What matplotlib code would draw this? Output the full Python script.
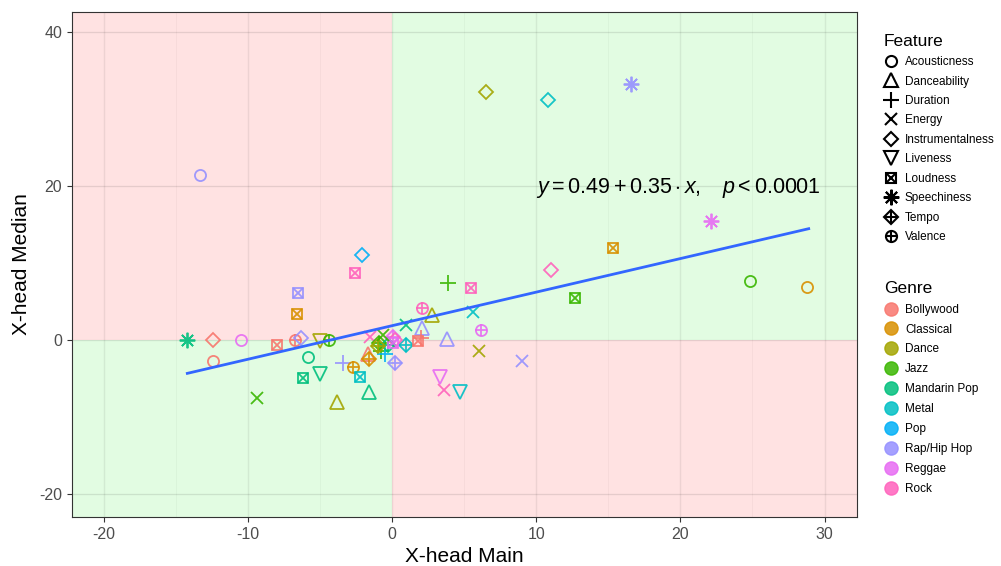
import matplotlib
matplotlib.use("Agg")
import matplotlib.pyplot as plt
from matplotlib.lines import Line2D
import numpy as np

plt.rcParams['font.family'] = ['Liberation Sans', 'DejaVu Sans']
plt.rcParams['mathtext.fontset'] = 'custom'
plt.rcParams['mathtext.rm'] = 'Liberation Sans'
plt.rcParams['mathtext.it'] = 'Liberation Sans:italic'
plt.rcParams['axes.unicode_minus'] = False

# ---------------- data ----------------
genres = ["Bollywood", "Classical", "Dance", "Jazz", "Mandarin Pop", "Metal",
          "Pop", "Rap/Hip Hop", "Reggae", "Rock"]
genre_colors = ["#F8766D", "#D89000", "#A3A500", "#39B600", "#00BF7D", "#00BFC4",
                "#00B0F6", "#9590FF", "#E76BF3", "#FF62BC"]
features = ["Acousticness", "Danceability", "Duration", "Energy", "Instrumentalness",
            "Liveness", "Loudness", "Speechiness", "Tempo", "Valence"]

pt_genre = ["Rap/Hip Hop", "Dance", "Metal", "Rap/Hip Hop", "Reggae", "Classical", "Rock",
            "Jazz", "Jazz", "Classical", "Rap/Hip Hop", "Pop", "Rock", "Rap/Hip Hop",
            "Classical", "Mandarin Pop", "Bollywood", "Bollywood", "Reggae", "Jazz",
            "Bollywood", "Bollywood", "Rap/Hip Hop", "Dance", "Jazz", "Mandarin Pop",
            "Mandarin Pop", "Mandarin Pop", "Dance", "Rap/Hip Hop", "Classical", "Metal",
            "Mandarin Pop", "Jazz", "Rock", "Rock", "Dance", "Metal", "Reggae",
            "Rap/Hip Hop", "Dance", "Reggae", "Rock", "Metal", "Rap/Hip Hop",
            "Rap/Hip Hop", "Bollywood", "Mandarin Pop", "Rock", "Bollywood", "Classical",
            "Jazz", "Jazz", "Reggae", "Metal", "Rock", "Pop", "Mandarin Pop", "Dance",
            "Reggae", "Bollywood", "Jazz"]
pt_feature = ["Acousticness", "Instrumentalness", "Instrumentalness", "Speechiness",
              "Speechiness", "Loudness", "Instrumentalness", "Loudness", "Acousticness",
              "Acousticness", "Energy", "Instrumentalness", "Loudness", "Loudness",
              "Loudness", "Speechiness", "Instrumentalness", "Acousticness", "Acousticness",
              "Energy", "Loudness", "Valence", "Instrumentalness", "Liveness", "Valence",
              "Acousticness", "Loudness", "Liveness", "Danceability", "Duration", "Valence",
              "Loudness", "Danceability", "Duration", "Loudness", "Valence", "Danceability",
              "Energy", "Valence", "Danceability", "Energy", "Liveness", "Energy",
              "Liveness", "Tempo", "Danceability", "Duration", "Energy", "Energy",
              "Danceability", "Tempo", "Tempo", "Duration", "Tempo", "Tempo",
              "Instrumentalness", "Duration", "Tempo", "Tempo", "Loudness", "Loudness",
              "Energy"]
pt_x = [-13.3, 6.5, 10.8, 16.6, 22.1, 15.3, 11.0, 12.7, 24.85, 28.8, 9.0, -2.1, -2.55,
        -6.5, -6.6, -14.25, -12.4, -12.4, -10.45, -9.4, -7.95, -6.75, -6.3, -5.0, -4.35,
        -5.85, -6.2, -5.0, -3.8, -3.4, -2.7, -2.2, -1.6, 3.9, 5.5, 2.1, 2.8, 5.6, 6.2,
        3.8, 6.0, 3.3, 3.6, 4.7, 0.2, 2.1, 2.0, 1.0, -1.5, -1.7, -1.6, -0.9, -0.8, 0.1,
        1.0, 0.2, -0.5, -0.3, -1.0, 0.1, 1.8, -0.6]
pt_y = [21.4, 32.2, 31.2, 33.3, 15.4, 12.0, 9.1, 5.4, 7.7, 6.9, -2.8, 11.0, 8.7, 6.1,
        3.4, -0.05, 0.0, -2.7, 0.0, -7.6, -0.7, 0.0, 0.2, -0.2, 0.0, -2.2, -5.0, -4.4,
        -8.1, -3.0, -3.5, -4.8, -6.8, 7.45, 6.7, 4.1, 3.25, 3.6, 1.3, 0.1, -1.5, -4.8,
        -6.5, -6.7, -3.0, 1.6, 0.3, 2.0, 0.4, -1.8, -2.5, -0.4, -1.4, 0.4, -0.7, 0.0,
        -1.8, -0.6, -0.8, -0.4, -0.2, 0.6]

fit_x = [-14.2, 28.9]
fit_intercept = 1.85
fit_slope = 0.436
eq_label = r'$y=0.49+0.35\cdot x,\ \ \ p<0.0001$'

x_ticks = [-20, -10, 0, 10, 20, 30]
y_ticks = [-20, 0, 20, 40]

# ---------------- marker definitions (ggplot shapes 1..10) ----------------
MC = 8.0  # base circle size
shape_parts = {
    "Acousticness": [("o", MC)],
    "Danceability": [("^", MC * 1.3)],
    "Duration": [("+", MC * 1.45)],
    "Energy": [("x", MC * 1.0)],
    "Instrumentalness": [("D", MC * 0.95)],
    "Liveness": [("v", MC * 1.3)],
    "Loudness": [("s", MC * 0.95), ("x", MC * 0.95)],
    "Speechiness": [((8, 2, 0), MC * 1.4)],
    "Tempo": [("D", MC * 0.95), ("+", MC * 1.34)],
    "Valence": [("o", MC), ("+", MC)],
}

fig = plt.figure(figsize=(10.01, 5.66), dpi=100)
ax = fig.add_axes([72 / 1001, 1 - 517 / 566, (857 - 72) / 1001, (517 - 12) / 566])

xlim = (-22.2, 32.25)
ylim = (-23.0, 42.6)
ax.set_xlim(*xlim)
ax.set_ylim(*ylim)

pink = "#FFE2E2"
green = "#E2FCE2"
ax.fill_between([xlim[0], 0], 0, ylim[1], color=pink, lw=0, zorder=0)
ax.fill_between([0, xlim[1]], 0, ylim[1], color=green, lw=0, zorder=0)
ax.fill_between([xlim[0], 0], ylim[0], 0, color=green, lw=0, zorder=0)
ax.fill_between([0, xlim[1]], ylim[0], 0, color=pink, lw=0, zorder=0)

# grid
for v in x_ticks:
    ax.axvline(v, color="black", alpha=0.07, lw=1.0, zorder=1)
for v in np.arange(-25, 35, 10):
    ax.axvline(v, color="black", alpha=0.04, lw=0.6, zorder=1)
for v in y_ticks:
    ax.axhline(v, color="black", alpha=0.07, lw=1.0, zorder=1)
for v in np.arange(-30, 50, 20):
    ax.axhline(v + 10, color="black", alpha=0.04, lw=0.6, zorder=1)

color_of = dict(zip(genres, genre_colors))
for g, f, x, y in zip(pt_genre, pt_feature, pt_x, pt_y):
    for m, ms in shape_parts[f]:
        ax.plot([x], [y], ls="none", marker=m, ms=ms, mfc="none",
                mec=color_of[g], mew=1.3, alpha=0.9, zorder=3)

fx = np.array(fit_x)
ax.plot(fx, fit_intercept + fit_slope * fx, color="#3366FF", lw=2.0, zorder=4)

ax.text(10.0, 19.7, eq_label, fontsize=15.5, ha="left", va="center", zorder=5)

ax.set_xticks(x_ticks)
ax.set_yticks(y_ticks)
ax.tick_params(axis="both", colors="#333333", labelcolor="#4D4D4D", labelsize=11.5,
               length=3.5, width=0.8)
for s in ax.spines.values():
    s.set_color("#333333")
    s.set_linewidth(0.8)
ax.set_xlabel("X-head Main", fontsize=15, labelpad=4)
ax.set_ylabel("X-head Median", fontsize=15, labelpad=6)

# legends
feat_handles = []
for f in features:
    parts = tuple(Line2D([], [], ls="none", marker=m, ms=ms * 1.0, mfc="none",
                         mec="black", mew=1.5) for m, ms in shape_parts[f])
    feat_handles.append(parts if len(parts) > 1 else parts[0])
leg1 = fig.legend(feat_handles, features, loc="upper left",
                  bbox_to_anchor=(879 / 1001, 1 - 29 / 566), frameon=False,
                  title="Feature", title_fontsize=12.5, fontsize=8.5,
                  handlelength=1.3, handletextpad=0.5, labelspacing=0.63,
                  alignment="left", borderaxespad=0)
genre_handles = [Line2D([], [], ls="none", marker="o", ms=9.5, mfc=c, mec=c, alpha=0.85)
                 for c in genre_colors]
leg2 = fig.legend(genre_handles, genres, loc="upper left",
                  bbox_to_anchor=(879 / 1001, 1 - 276 / 566), frameon=False,
                  title="Genre", title_fontsize=12.5, fontsize=8.5,
                  handlelength=1.3, handletextpad=0.5, labelspacing=0.67,
                  alignment="left", borderaxespad=0)

fig.savefig("out.png", dpi=100)
